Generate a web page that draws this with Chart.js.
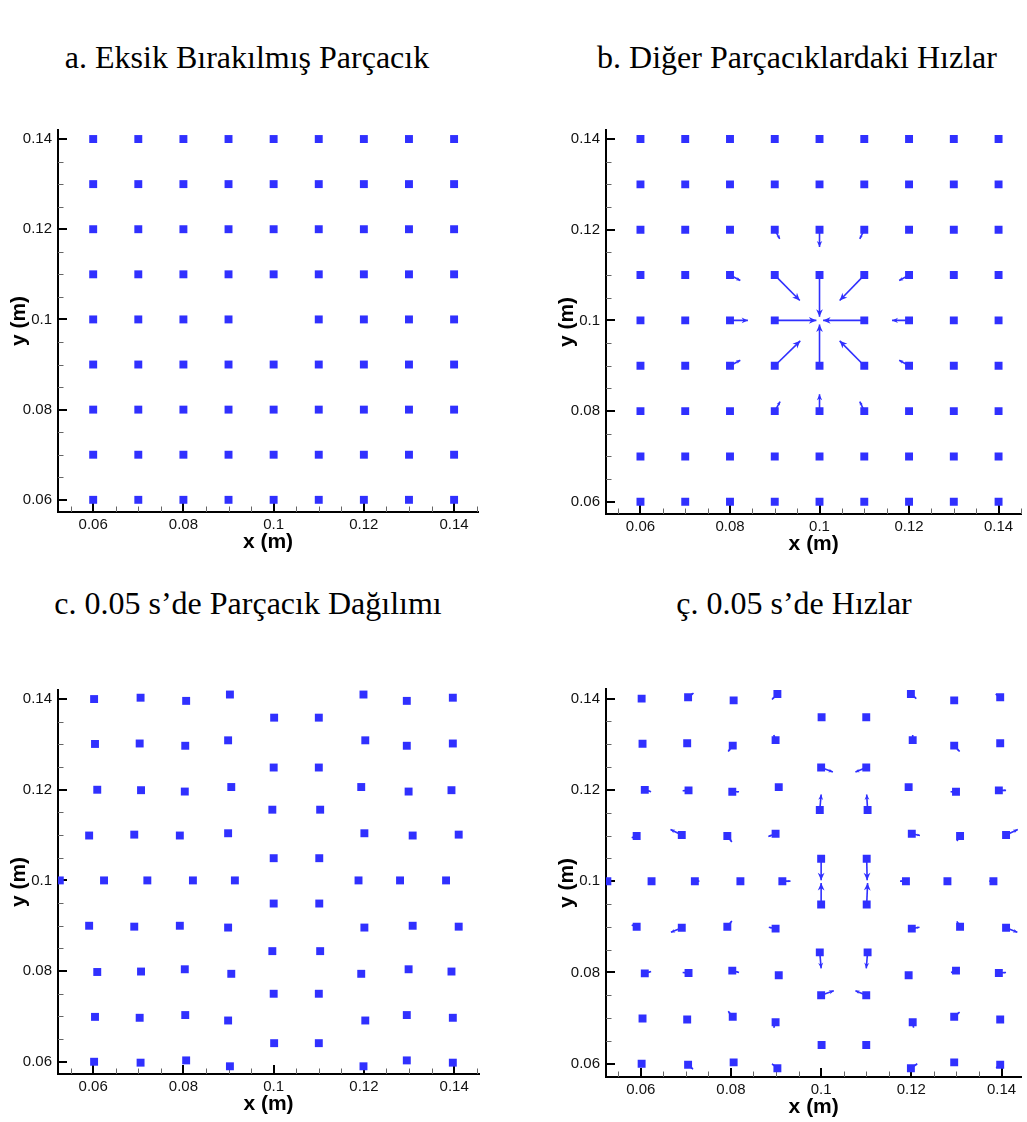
<!DOCTYPE html>
<html>
<head>
<meta charset="utf-8">
<script src="https://cdn.jsdelivr.net/npm/chart.js@4/dist/chart.umd.min.js"></script>
<style>
  html, body { margin: 0; padding: 0; background: #fff; overflow: hidden; }
  body { width: 1027px; height: 1122px; position: relative; }
  .panel { position: absolute; }
  .caption {
    position: absolute;
    font-family: "Liberation Serif", "Times New Roman", serif;
    font-size: 32px;
    color: #000;
    white-space: nowrap;
    transform: translate(-50%, -50%);
  }
</style>
</head>
<body>
<div class="caption" style="left:247px; top:57px">a. Eksik Bırakılmış Parçacık</div>
<div class="caption" style="left:797px; top:57px">b. Diğer Parçacıklardaki Hızlar</div>
<div class="caption" style="left:248px; top:603px">c. 0.05 s’de Parçacık Dağılımı</div>
<div class="caption" style="left:794px; top:603px">ç. 0.05 s’de Hızlar</div>

<div class="panel" id="boxA"><canvas id="chartA"></canvas></div>
<div class="panel" id="boxB"><canvas id="chartB"></canvas></div>
<div class="panel" id="boxC"><canvas id="chartC"></canvas></div>
<div class="panel" id="boxD"><canvas id="chartD"></canvas></div>

<script>
// Particle lattice (m)
const GRID = [0.06, 0.07, 0.08, 0.09, 0.10, 0.11, 0.12, 0.13, 0.14];
const REMOVED = [0.10, 0.10];
const AXIS_TICKS = [0.06, 0.08, 0.10, 0.12, 0.14];
const TICK_LABELS = ['0.06', '0.08', '0.1', '0.12', '0.14'];

// Velocities of the neighbours right after removal: [x, y, dx, dy] (arrow tip offset)
const initialVelocity = [
    [0.09, 0.12, 0.0011, -0.0020],
    [0.10, 0.12, 0.0000, -0.0038],
    [0.11, 0.12, -0.0010, -0.0020],
    [0.08, 0.11, 0.0023, -0.0012],
    [0.09, 0.11, 0.0056, -0.0056],
    [0.10, 0.11, 0.0000, -0.0092],
    [0.11, 0.11, -0.0055, -0.0056],
    [0.12, 0.11, -0.0022, -0.0012],
    [0.08, 0.10, 0.0040, 0.0000],
    [0.09, 0.10, 0.0093, 0.0000],
    [0.11, 0.10, -0.0092, 0.0000],
    [0.12, 0.10, -0.0038, 0.0000],
    [0.08, 0.09, 0.0023, 0.0012],
    [0.09, 0.09, 0.0057, 0.0055],
    [0.10, 0.09, 0.0000, 0.0091],
    [0.11, 0.09, -0.0055, 0.0055],
    [0.12, 0.09, -0.0022, 0.0012],
    [0.09, 0.08, 0.0012, 0.0021],
    [0.10, 0.08, 0.0000, 0.0037],
    [0.11, 0.08, -0.0010, 0.0021]
];

// Particle positions at t = 0.05 s: [x, y]
const positions005 = [
    [0.0602, 0.1400], [0.0705, 0.1403], [0.0806, 0.1396], [0.0903, 0.1410],
    [0.1199, 0.1410], [0.1295, 0.1396], [0.1397, 0.1403],
    [0.1001, 0.1359], [0.1100, 0.1359],
    [0.0604, 0.1301], [0.0703, 0.1302], [0.0804, 0.1297], [0.0899, 0.1309],
    [0.1203, 0.1309], [0.1295, 0.1297], [0.1397, 0.1302],
    [0.1000, 0.1249], [0.1100, 0.1249],
    [0.0609, 0.1200], [0.0706, 0.1199], [0.0803, 0.1196], [0.0906, 0.1206],
    [0.1194, 0.1206], [0.1299, 0.1196], [0.1394, 0.1199],
    [0.0997, 0.1156], [0.1103, 0.1156],
    [0.0591, 0.1099], [0.0691, 0.1101], [0.0792, 0.1099], [0.0899, 0.1104],
    [0.1201, 0.1104], [0.1308, 0.1099], [0.1410, 0.1101],
    [0.1000, 0.1049], [0.1101, 0.1049],
    [0.0526, 0.1000], [0.0624, 0.1000], [0.0720, 0.1000], [0.0821, 0.1000], [0.0914, 0.1000],
    [0.1188, 0.1000], [0.1280, 0.1000], [0.1382, 0.1000],
    [0.1000, 0.0949], [0.1101, 0.0949],
    [0.0591, 0.0900], [0.0691, 0.0898], [0.0792, 0.0900], [0.0899, 0.0896],
    [0.1201, 0.0896], [0.1308, 0.0900], [0.1410, 0.0898],
    [0.0997, 0.0844], [0.1103, 0.0844],
    [0.0609, 0.0798], [0.0706, 0.0799], [0.0803, 0.0804], [0.0906, 0.0794],
    [0.1194, 0.0794], [0.1299, 0.0804], [0.1394, 0.0799],
    [0.1000, 0.0750], [0.1100, 0.0750],
    [0.0604, 0.0699], [0.0703, 0.0697], [0.0804, 0.0703], [0.0899, 0.0691],
    [0.1203, 0.0691], [0.1295, 0.0703], [0.1397, 0.0697],
    [0.1001, 0.0641], [0.1100, 0.0641],
    [0.0602, 0.0600], [0.0705, 0.0598], [0.0806, 0.0603], [0.0903, 0.0590],
    [0.1199, 0.0590], [0.1295, 0.0603], [0.1397, 0.0598]
];

// Velocities at t = 0.05 s: [x, y, dx, dy]
const velocity005 = [
    [0.0705, 0.1403, 0.0012, 0.0009],
    [0.0903, 0.1410, -0.0012, -0.0012],
    [0.1199, 0.1410, 0.0012, -0.0010],
    [0.1397, 0.1403, -0.0010, 0.0007],
    [0.1001, 0.1359, 0.0000, -0.0006],
    [0.1100, 0.1359, 0.0000, -0.0006],
    [0.0804, 0.1297, -0.0010, -0.0013],
    [0.0899, 0.1309, -0.0004, 0.0011],
    [0.1203, 0.1309, 0.0000, 0.0011],
    [0.1295, 0.1297, 0.0012, -0.0013],
    [0.1000, 0.1249, 0.0026, -0.0010],
    [0.1100, 0.1249, -0.0024, -0.0010],
    [0.0609, 0.1200, 0.0014, -0.0004],
    [0.0706, 0.1199, -0.0013, -0.0001],
    [0.0803, 0.1196, 0.0015, 0.0000],
    [0.1299, 0.1196, -0.0012, 0.0000],
    [0.1394, 0.1199, 0.0016, 0.0000],
    [0.0997, 0.1156, 0.0003, 0.0034],
    [0.1103, 0.1156, -0.0002, 0.0034],
    [0.0591, 0.1099, -0.0011, -0.0004],
    [0.0691, 0.1101, -0.0025, 0.0012],
    [0.0792, 0.1099, 0.0010, -0.0013],
    [0.0899, 0.1104, -0.0016, -0.0006],
    [0.1201, 0.1104, 0.0018, -0.0004],
    [0.1308, 0.1099, -0.0007, -0.0011],
    [0.1410, 0.1101, 0.0026, 0.0012],
    [0.1000, 0.1049, 0.0000, -0.0047],
    [0.1101, 0.1049, 0.0001, -0.0047],
    [0.0720, 0.1000, 0.0010, 0.0000],
    [0.0821, 0.1000, 0.0008, 0.0000],
    [0.0914, 0.1000, 0.0018, 0.0000],
    [0.1188, 0.1000, -0.0013, 0.0000],
    [0.1382, 0.1000, -0.0009, 0.0000],
    [0.1000, 0.0949, 0.0000, 0.0047],
    [0.1101, 0.0949, 0.0002, 0.0047],
    [0.0591, 0.0900, -0.0011, 0.0004],
    [0.0691, 0.0898, -0.0024, -0.0010],
    [0.0792, 0.0900, 0.0010, 0.0013],
    [0.0899, 0.0896, -0.0015, 0.0003],
    [0.1201, 0.0896, 0.0017, 0.0003],
    [0.1308, 0.0900, -0.0007, 0.0012],
    [0.1410, 0.0898, 0.0025, -0.0010],
    [0.0997, 0.0844, 0.0003, -0.0035],
    [0.1103, 0.0844, -0.0003, -0.0035],
    [0.0609, 0.0798, 0.0014, 0.0004],
    [0.0706, 0.0799, -0.0013, 0.0001],
    [0.0803, 0.0804, 0.0015, -0.0004],
    [0.1299, 0.0804, -0.0011, -0.0004],
    [0.1394, 0.0799, 0.0016, 0.0001],
    [0.1000, 0.0750, 0.0028, 0.0010],
    [0.1100, 0.0750, -0.0024, 0.0010],
    [0.0804, 0.0703, -0.0010, 0.0012],
    [0.0899, 0.0691, -0.0004, -0.0012],
    [0.1203, 0.0691, 0.0002, -0.0012],
    [0.1295, 0.0703, 0.0012, 0.0010],
    [0.1001, 0.0641, 0.0000, 0.0006],
    [0.1100, 0.0641, 0.0000, 0.0006],
    [0.0705, 0.0598, 0.0011, -0.0010],
    [0.0903, 0.0590, -0.0012, 0.0010],
    [0.1199, 0.0590, 0.0014, 0.0010],
    [0.1397, 0.0598, -0.0009, -0.0007]
];

const BLUE = '#3030ff';
const SANS = '"Liberation Sans", Arial, sans-serif';
const Y_AXIS_W = 58;
const TOP_PAD = 20;
const TITLE_GAP = 30;

// lattice with the removed particle left out
const latticePoints = [];
GRID.forEach(y => GRID.forEach(x => {
    if (x !== REMOVED[0] || y !== REMOVED[1]) latticePoints.push({ x, y });
}));

function particleDataset(points) {
    return {
        type: 'scatter',
        data: points,
        pointStyle: 'rect',
        pointRadius: 5.6,
        pointBorderWidth: 0,
        backgroundColor: BLUE,
        borderColor: BLUE
    };
}

function arrowDatasets(vectors) {
    return vectors.map(([x, y, dx, dy]) => ({
        type: 'line',
        arrow: true,
        data: [{ x, y }, { x: x + dx, y: y + dy }],
        borderColor: BLUE,
        borderWidth: 1.6,
        pointRadius: 0,
        fill: false
    }));
}

// Tecplot style ticks, pointing into the plot
const inwardTicks = {
    id: 'inwardTicks',
    beforeDatasetsDraw(chart) {
        const { ctx, chartArea: ca, scales } = chart;
        const step = 0.005;
        ctx.save();
        ['x', 'y'].forEach(id => {
            const scale = scales[id];
            const first = Math.ceil(scale.min / step - 1e-6);
            const last = Math.floor(scale.max / step + 1e-6);
            for (let i = first; i <= last; i++) {
                const v = i * step;
                const major = AXIS_TICKS.some(t => Math.abs(t - v) < 1e-9);
                const len = major ? 9 : 5.5;
                ctx.strokeStyle = major ? '#000' : '#666';
                ctx.lineWidth = major ? 2 : 1;
                const p = Math.round(scale.getPixelForValue(v)) + (major ? 0 : 0.5);
                ctx.beginPath();
                if (id === 'x') {
                    ctx.moveTo(p, ca.bottom);
                    ctx.lineTo(p, ca.bottom - len);
                } else {
                    ctx.moveTo(ca.left, p);
                    ctx.lineTo(ca.left + len, p);
                }
                ctx.stroke();
            }
        });
        ctx.restore();
    }
};

// filled arrow heads at the end of every velocity segment
const arrowHeads = {
    id: 'arrowHeads',
    afterDatasetsDraw(chart) {
        const ctx = chart.ctx;
        ctx.save();
        ctx.fillStyle = BLUE;
        chart.data.datasets.forEach((ds, i) => {
            if (!ds.arrow) return;
            const pts = chart.getDatasetMeta(i).data;
            const a = pts[0], b = pts[1];
            const dx = b.x - a.x, dy = b.y - a.y;
            const len = Math.hypot(dx, dy);
            if (len < 0.5) return;
            const ux = dx / len, uy = dy / len;
            const hl = Math.min(7.5, len * 0.35);
            const hw = hl * 0.45;
            ctx.beginPath();
            ctx.moveTo(b.x, b.y);
            ctx.lineTo(b.x - ux * hl - uy * hw, b.y - uy * hl + ux * hw);
            ctx.lineTo(b.x - ux * hl * 0.7, b.y - uy * hl * 0.7);
            ctx.lineTo(b.x - ux * hl + uy * hw, b.y - uy * hl - ux * hw);
            ctx.closePath();
            ctx.fill();
        });
        ctx.restore();
    }
};

function makePanel(boxId, canvasId, area, range, datasets) {
    const box = document.getElementById(boxId);
    const left = area.left - Y_AXIS_W;
    const top = area.top - TOP_PAD;
    const padRight = 1027 - area.right > 40 ? 22 : 0;
    box.style.left = left + 'px';
    box.style.top = top + 'px';
    box.style.width = (area.right - left + padRight) + 'px';
    box.style.height = (area.bottom - top + area.axisH) + 'px';

    const titleFont = { family: SANS, size: 21, weight: 'bold', lineHeight: 1.2 };
    const tickFont = { family: SANS, size: 15 };
    const half = titleFont.size * titleFont.lineHeight / 2;

    return new Chart(document.getElementById(canvasId), {
        type: 'scatter',
        data: { datasets },
        options: {
            responsive: true,
            maintainAspectRatio: false,
            animation: false,
            events: [],
            layout: { padding: { top: TOP_PAD, right: padRight, left: 0, bottom: 0 } },
            plugins: { legend: { display: false }, tooltip: { enabled: false } },
            scales: {
                x: {
                    type: 'linear',
                    min: range.x[0],
                    max: range.x[1],
                    afterBuildTicks: s => { s.ticks = AXIS_TICKS.map(value => ({ value })); },
                    afterFit: s => { s.height = area.axisH; s.paddingLeft = 0; s.paddingRight = 0; },
                    grid: { drawOnChartArea: false, drawTicks: false },
                    border: { display: true, color: '#000', width: 2 },
                    ticks: {
                        autoSkip: false,
                        maxRotation: 0,
                        padding: 4,
                        color: '#111',
                        font: tickFont,
                        callback: (v, i) => TICK_LABELS[i]
                    },
                    title: {
                        display: true,
                        text: 'x (m)',
                        color: '#000',
                        font: titleFont,
                        padding: { top: 0, bottom: area.axisH - TITLE_GAP - half }
                    }
                },
                y: {
                    type: 'linear',
                    min: range.y[0],
                    max: range.y[1],
                    afterBuildTicks: s => { s.ticks = AXIS_TICKS.map(value => ({ value })); },
                    afterFit: s => { s.width = Y_AXIS_W; s.paddingTop = 0; s.paddingBottom = 0; },
                    grid: { drawOnChartArea: false, drawTicks: false },
                    border: { display: true, color: '#000', width: 2 },
                    ticks: {
                        autoSkip: false,
                        padding: 6,
                        color: '#111',
                        font: tickFont,
                        callback: (v, i) => TICK_LABELS[i]
                    },
                    title: {
                        display: true,
                        text: 'y (m)',
                        color: '#000',
                        font: titleFont,
                        padding: { top: 19 - half, bottom: 0 }
                    }
                }
            }
        },
        plugins: [inwardTicks, arrowHeads]
    });
}

const movedPoints = positions005.map(([x, y]) => ({ x, y }));

makePanel('boxA', 'chartA',
    { left: 58, top: 130, right: 478, bottom: 512, axisH: 48 },
    { x: [0.0522, 0.1453], y: [0.0573, 0.1420] },
    [particleDataset(latticePoints)]);

makePanel('boxB', 'chartB',
    { left: 606, top: 130, right: 1027, bottom: 514, axisH: 48 },
    { x: [0.0523, 0.1451], y: [0.0573, 0.1420] },
    [particleDataset(latticePoints), ...arrowDatasets(initialVelocity)]);

makePanel('boxC', 'chartC',
    { left: 58, top: 690, right: 479, bottom: 1074, axisH: 48 },
    { x: [0.0522, 0.1455], y: [0.0573, 0.1420] },
    [particleDataset(movedPoints)]);

makePanel('boxD', 'chartD',
    { left: 606, top: 689, right: 1027, bottom: 1077, axisH: 45 },
    { x: [0.0523, 0.1444], y: [0.0571, 0.1421] },
    [particleDataset(movedPoints), ...arrowDatasets(velocity005)]);
</script>
</body>
</html>
